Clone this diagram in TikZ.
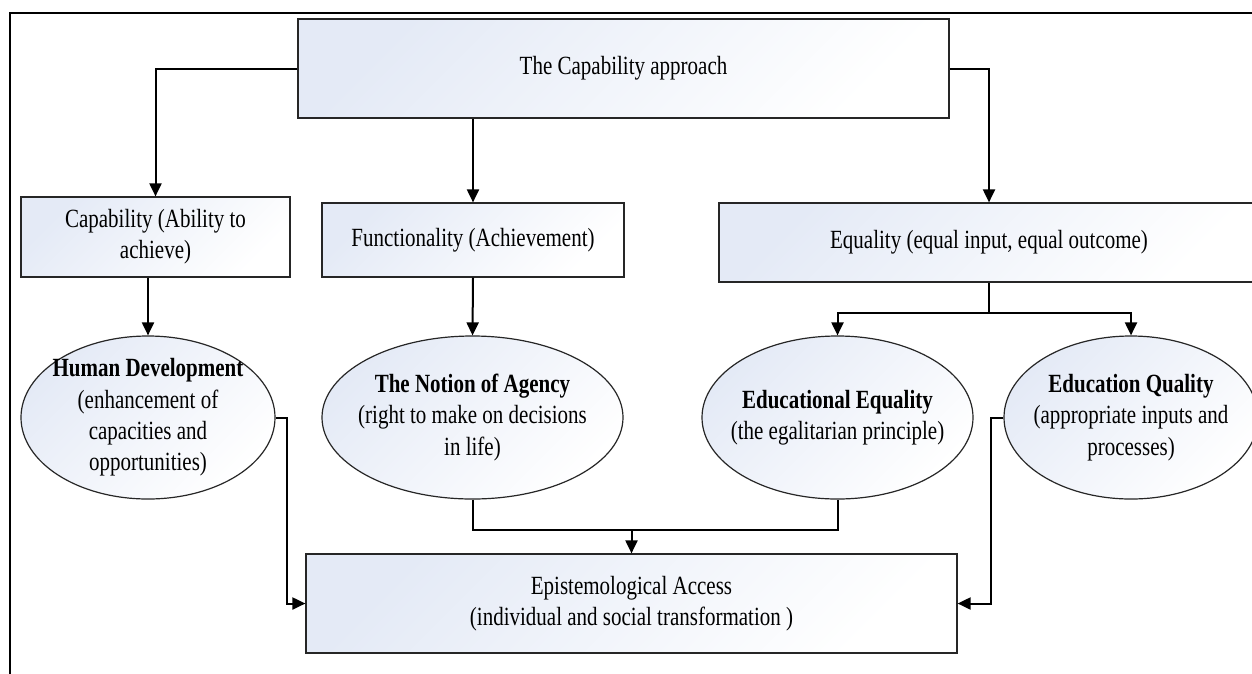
\documentclass[tikz,border=0pt]{standalone}
\usepackage{fontspec}
\setmainfont{Liberation Serif}
\usepackage{graphicx}
\usetikzlibrary{arrows.meta,shapes.geometric}
\definecolor{boxfill}{RGB}{228,234,246}
\newcommand{\stk}[1]{\scalebox{1}[1.25]{\begin{tabular}{@{}c@{}}#1\end{tabular}}}
\tikzset{
  shadebox/.style={draw=black!85, line width=1.2pt, top color=boxfill, bottom color=white, shading angle=45},
  rbox/.style={shadebox, rectangle, inner sep=0pt, align=center},
  ell/.style={shadebox, ellipse, inner sep=0pt},
  txt/.style={inner sep=0pt, align=center},
  conn/.style={line width=2pt, draw=black},
  arr/.style={conn, -{Triangle[length=13pt,width=12pt]}},
  every node/.style={font=\fontsize{21}{25}\selectfont}
}
\begin{document}
\begin{tikzpicture}[x=1pt,y=-1pt]
\useasboundingbox (0,0) rectangle (1252,673);
\clip (0,0) rectangle (1252,673);
\fill[white] (0,0) rectangle (1252,673);
% outer frame
\draw[line width=2.7pt] (10,700) -- (10,13) -- (1270,13);

% boxes
\node[rbox, minimum width=651pt, minimum height=99pt] (top) at (623.5,68.5) {\stk{The Capability approach}};
\node[rbox, minimum width=269pt, minimum height=80pt] (cap) at (155.5,237) {\stk{Capability (Ability to\\achieve)}};
\node[rbox, minimum width=302pt, minimum height=74pt] (func) at (473,240) {\stk{Functionality (Achievement)}};
\node[rbox, minimum width=540pt, minimum height=79pt] (equ) at (989,242.5) {\stk{Equality (equal input, equal outcome)}};
\node[rbox, minimum width=651pt, minimum height=99pt] (ea) at (631.5,603.5) {\stk{Epistemological Access\\(individual and social transformation )}};

% ellipses
\node[ell, minimum width=254pt, minimum height=163pt] (hd) at (148,417.5) {};
\node[ell, minimum width=301pt, minimum height=163pt] (na) at (472.5,417.5) {};
\node[ell, minimum width=271pt, minimum height=163pt] (ee) at (837.5,417.5) {};
\node[ell, minimum width=254pt, minimum height=163pt] (eq) at (1131,417.5) {};

\node[txt] (hdt) at (hd.center) {\stk{\textbf{Human Development}\\(enhancement of\\capacities and\\opportunities)}};
\node[txt] (nat) at (na.center) {\stk{\textbf{The Notion of Agency}\\(right to make on decisions\\in life)}};
\node[txt] (eet) at (ee.center) {\stk{\textbf{Educational Equality}\\(the egalitarian principle)}};
\node[txt] (eqt) at (eq.center) {\stk{\textbf{Education Quality}\\(appropriate inputs and\\processes)}};

% connectors
\draw[arr] (top.west) -| (cap.north);
\draw[arr] (func.north |- top.south) -- (func.north);
\draw[arr] (top.east) -| (equ.north);
\draw[arr] (hd.north |- cap.south) -- (hd.north);
\draw[arr] (func.south) -- (na.north);
\draw[conn] (equ.south) -- ++(0,30) coordinate (split);
\draw[arr] (split) -| (ee.north);
\draw[arr] (split) -| (eq.north);
\draw[conn] (na.south) -- ++(0,30) coordinate (jl) -| (ee.south);
\draw[arr] (jl -| ea.north) -- (ea.north);
\draw[arr] (hd.east) -- ++(11,0) |- (ea.west);
\draw[arr] (eq.west) -- ++(-12,0) |- (ea.east);
\end{tikzpicture}
\end{document}
